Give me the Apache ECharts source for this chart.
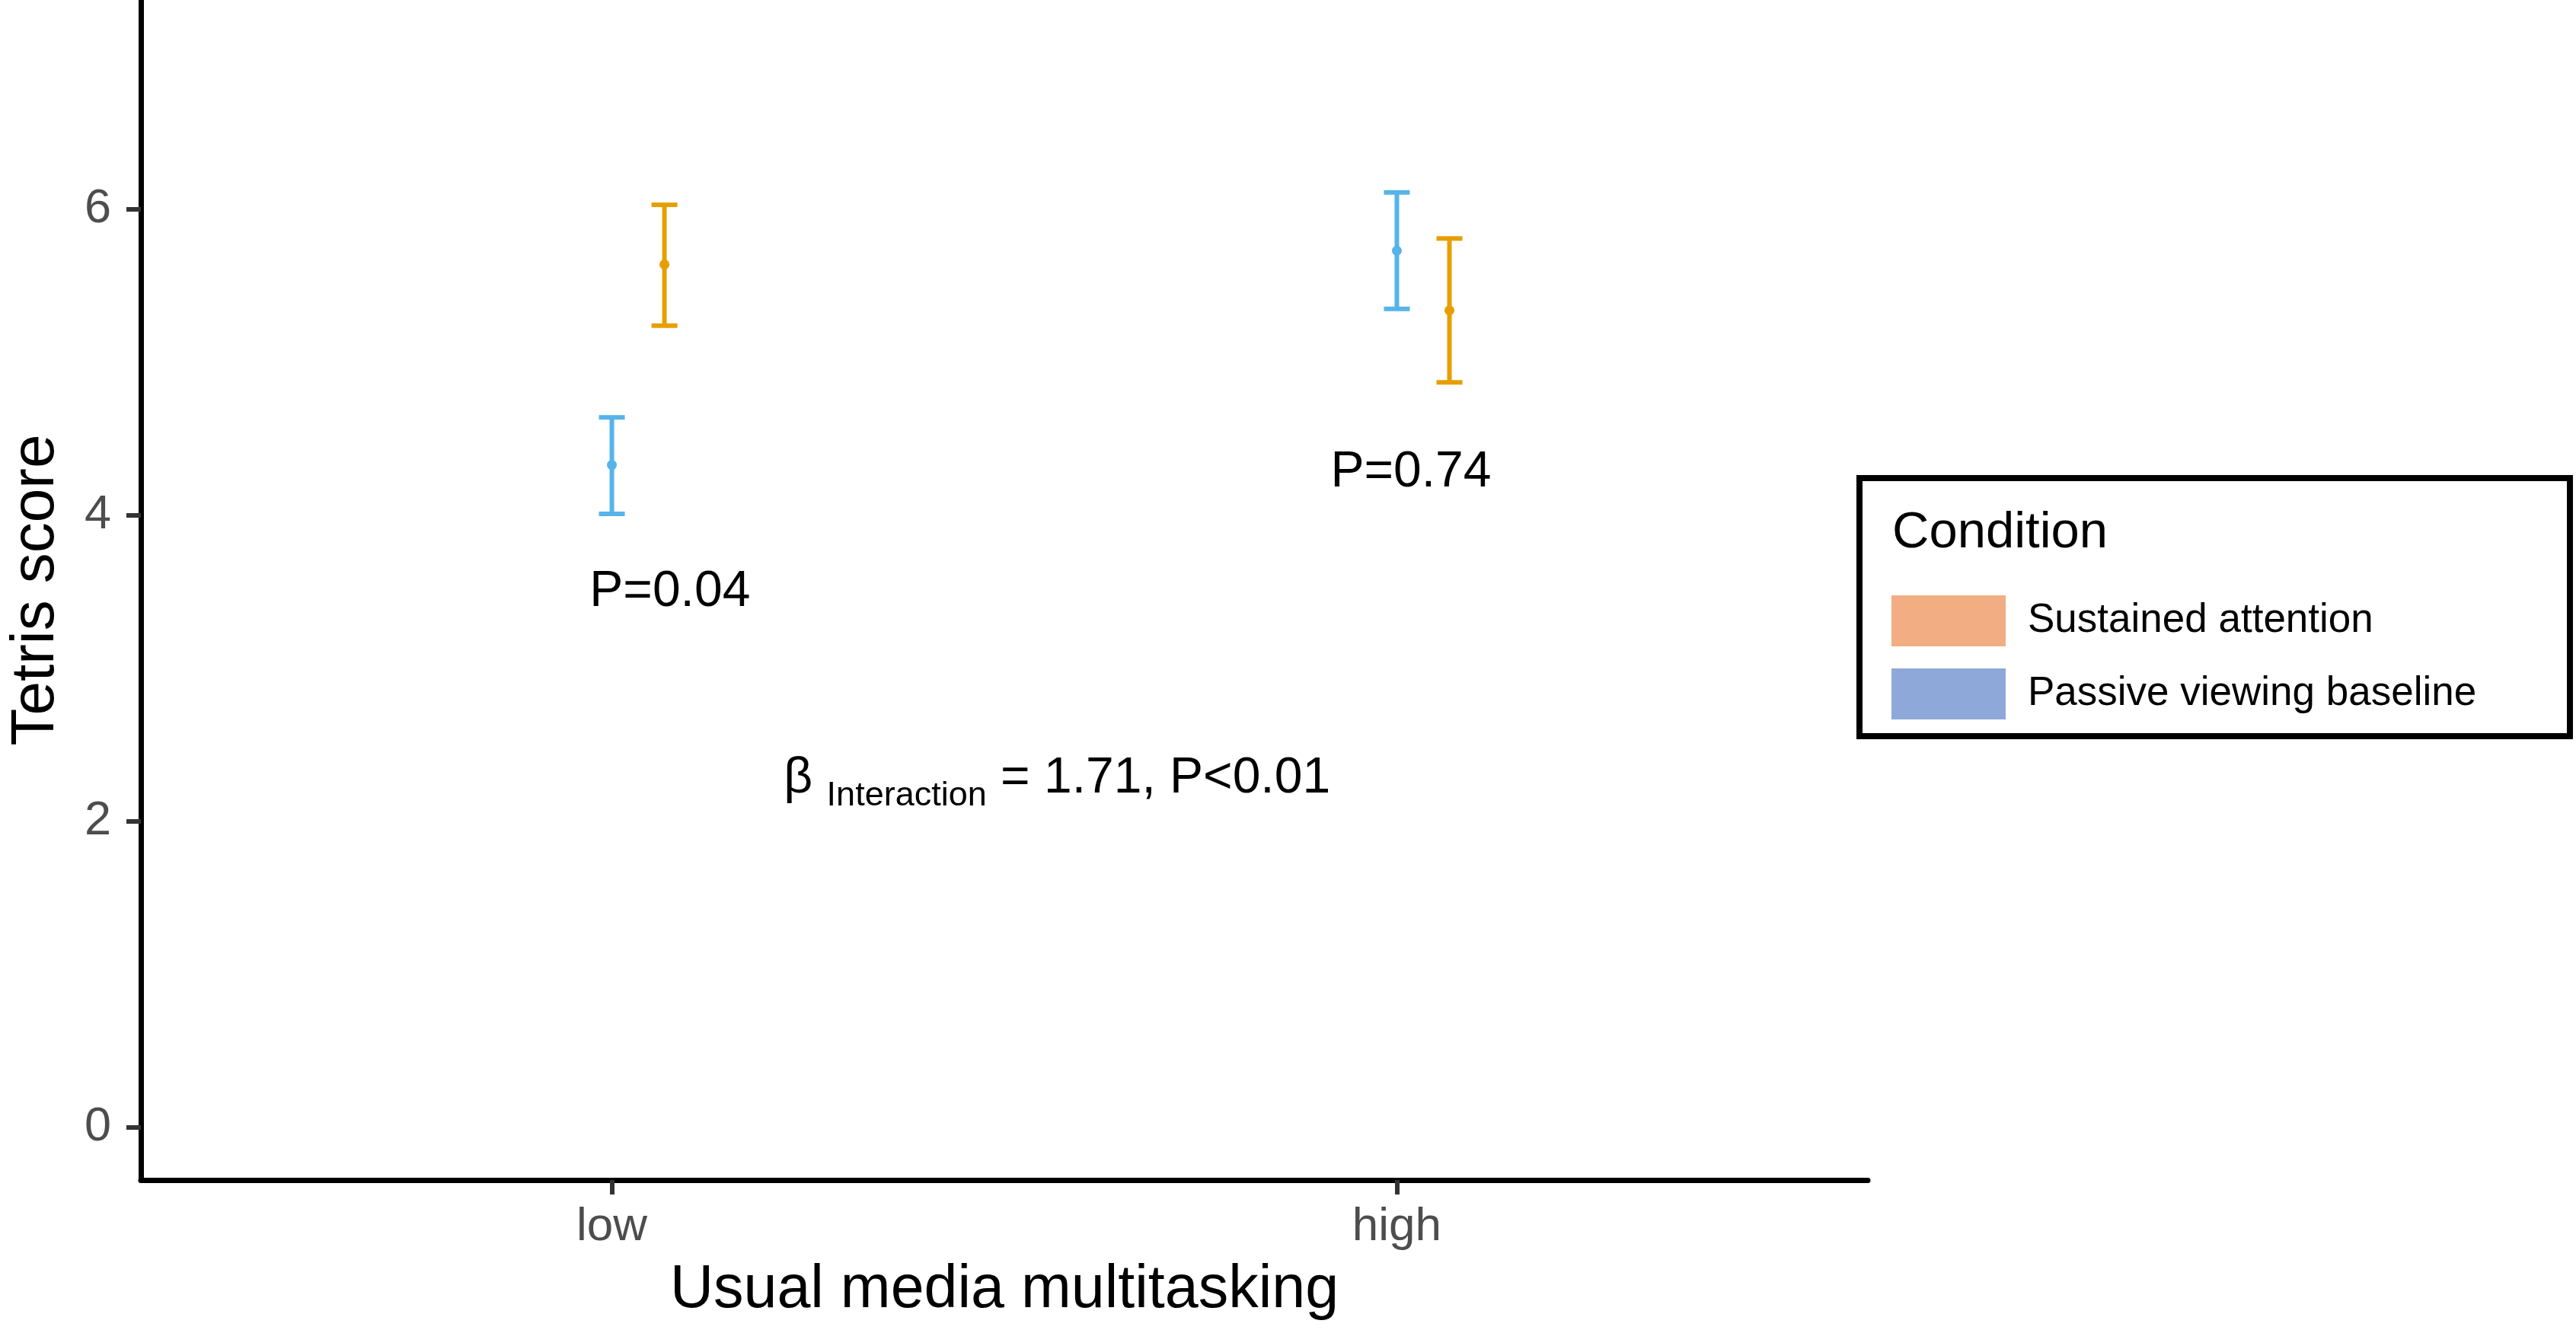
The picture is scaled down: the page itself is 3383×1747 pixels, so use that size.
<!DOCTYPE html>
<html lang="en" style="height: 100%">
<head>
    <meta charset="utf-8">
</head>
<body style="height: 100%; margin: 0; background: #fff">
<div id="container" style="width: 3383px; height: 1747px"></div>

<script type="text/javascript" src="https://fastly.jsdelivr.net/npm/echarts@6/dist/echarts.min.js"></script>
<script type="text/javascript">
    // x groups
    var groups = ['low', 'high'];
    var groupPos = [1, 2];

    // Sustained attention: mean and error bar ends
    var sustainedMean = [5.64, 5.34];
    var sustainedLow  = [5.24, 4.87];
    var sustainedHigh = [6.03, 5.81];

    // Passive viewing baseline
    var passiveMean = [4.33, 5.73];
    var passiveLow  = [4.01, 5.35];
    var passiveHigh = [4.64, 6.11];

    // y ticks
    var yTicks = [0, 2, 4, 6];

    // text notes placed in data coordinates
    var noteText = ['P=0.04', 'P=0.74'];
    var noteX = [1.074, 2.018];
    var noteY = [3.50, 4.28];
    var betaNote = { x: 1.219, y: 2.25, main: '= 1.71, P<0.01', sub: 'Interaction' };

    var FONT = "'Liberation Sans', Arial, Helvetica, sans-serif";
    var dodge = 0.067; // orange points sit a bit right of the tick

    function buildRows(xs, mean, lo, hi, shift) {
        return xs.map(function (x, i) {
            return [x + shift, mean[i], lo[i], hi[i]];
        });
    }

    function renderErr(params, api) {
        var x = api.value(0);
        var top = api.coord([x, api.value(3)]);
        var bot = api.coord([x, api.value(2)]);
        var mid = api.coord([x, api.value(1)]);
        var color = api.visual('color');
        var hw = 17;
        var st = { stroke: color, lineWidth: 6 };
        return {
            type: 'group',
            children: [
                { type: 'line', shape: { x1: top[0], y1: top[1], x2: bot[0], y2: bot[1] }, style: st },
                { type: 'line', shape: { x1: top[0] - hw, y1: top[1], x2: top[0] + hw, y2: top[1] }, style: st },
                { type: 'line', shape: { x1: bot[0] - hw, y1: bot[1], x2: bot[0] + hw, y2: bot[1] }, style: st },
                { type: 'circle', shape: { cx: mid[0], cy: mid[1], r: 6.5 }, style: { fill: color } }
            ]
        };
    }

    var dom = document.getElementById('container');
    var myChart = echarts.init(dom);
    var option;

    option = {
        backgroundColor: '#fff',
        animation: false,
        textStyle: { fontFamily: FONT },
        grid: { left: 176, right: 930, top: 0, bottom: 197, containLabel: false },
        xAxis: {
            type: 'value',
            min: 0.4,
            max: 2.6,
            name: 'Usual media multitasking',
            nameLocation: 'middle',
            nameGap: 106,
            nameTextStyle: { fontSize: 79, color: '#000', fontFamily: FONT },
            splitLine: { show: false },
            axisLine: { show: true, onZero: false, lineStyle: { color: '#000', width: 7 } },
            axisTick: { show: true, customValues: groupPos, length: 19, lineStyle: { color: '#333', width: 6 } },
            axisLabel: {
                customValues: groupPos,
                margin: 31,
                fontSize: 62,
                color: '#4d4d4d',
                fontFamily: FONT,
                formatter: function (v) {
                    var i = groupPos.indexOf(Math.round(v));
                    return i >= 0 ? groups[i] : '';
                }
            }
        },
        yAxis: {
            type: 'value',
            min: -0.343,
            max: 7.368,
            name: 'Tetris score',
            nameLocation: 'middle',
            nameRotate: 90,
            nameGap: 97,
            nameTextStyle: { fontSize: 80, color: '#000', fontFamily: FONT },
            splitLine: { show: false },
            axisLine: { show: true, onZero: false, lineStyle: { color: '#000', width: 7 } },
            axisTick: { show: true, customValues: yTicks, length: 19, lineStyle: { color: '#333', width: 6 } },
            axisLabel: {
                customValues: yTicks,
                margin: 39,
                fontSize: 63,
                color: '#4d4d4d',
                fontFamily: FONT
            }
        },
        legend: {
            orient: 'vertical',
            left: 2484,
            top: 782,
            itemWidth: 150,
            itemHeight: 67,
            itemGap: 29,
            padding: 0,
            icon: 'rect',
            selectedMode: false,
            textStyle: { fontSize: 53, color: '#000', fontFamily: FONT, padding: [18, 0, 0, 24] },
            data: [
                { name: 'Sustained attention', itemStyle: { color: '#F2AE82' } },
                { name: 'Passive viewing baseline', itemStyle: { color: '#8EA8DA' } }
            ]
        },
        graphic: [
            {
                type: 'rect',
                shape: { x: 2442, y: 628, width: 933, height: 339 },
                style: { fill: 'none', stroke: '#000', lineWidth: 8 }
            },
            {
                type: 'text',
                x: 2485,
                y: 701,
                style: { text: 'Condition', fontSize: 67, fontFamily: FONT, fill: '#000', verticalAlign: 'middle' }
            }
        ],
        series: [
            {
                name: 'Passive viewing baseline',
                type: 'custom',
                renderItem: renderErr,
                itemStyle: { color: '#56B4E9' },
                encode: { x: 0, y: [1, 2, 3] },
                data: buildRows(groupPos, passiveMean, passiveLow, passiveHigh, 0),
                z: 3
            },
            {
                name: 'Sustained attention',
                type: 'custom',
                renderItem: renderErr,
                itemStyle: { color: '#E69F00' },
                encode: { x: 0, y: [1, 2, 3] },
                data: buildRows(groupPos, sustainedMean, sustainedLow, sustainedHigh, dodge),
                z: 3
            },
            {
                name: 'notes',
                type: 'custom',
                silent: true,
                renderItem: function (params, api) {
                    var p = api.coord([api.value(0), api.value(1)]);
                    return {
                        type: 'text',
                        x: p[0],
                        y: p[1],
                        style: {
                            text: noteText[params.dataIndex],
                            fontSize: 66,
                            fontFamily: FONT,
                            fill: '#000',
                            align: 'center',
                            verticalAlign: 'middle'
                        }
                    };
                },
                data: noteX.map(function (x, i) { return [x, noteY[i]]; }),
                z: 4
            },
            {
                name: 'beta',
                type: 'custom',
                silent: true,
                renderItem: function (params, api) {
                    var p = api.coord([api.value(0), api.value(1)]);
                    return {
                        type: 'text',
                        x: p[0],
                        y: p[1],
                        style: {
                            text: '{b|\u03b2} {s|' + betaNote.sub + '} {m|' + betaNote.main + '}',
                            fontSize: 66,
                            fontFamily: FONT,
                            fill: '#000',
                            align: 'left',
                            verticalAlign: 'middle',
                            rich: {
                                b: { fontSize: 66, fontFamily: FONT, verticalAlign: 'bottom', padding: [0, 0, 12, 0] },
                                s: { fontSize: 45, fontFamily: FONT, verticalAlign: 'bottom' },
                                m: { fontSize: 66, fontFamily: FONT, verticalAlign: 'bottom', padding: [0, 0, 12, 0] }
                            }
                        }
                    };
                },
                data: [[betaNote.x, betaNote.y]],
                z: 4
            }
        ]
    };

    myChart.setOption(option);
    window.addEventListener('resize', myChart.resize);
</script>
</body>
</html>
